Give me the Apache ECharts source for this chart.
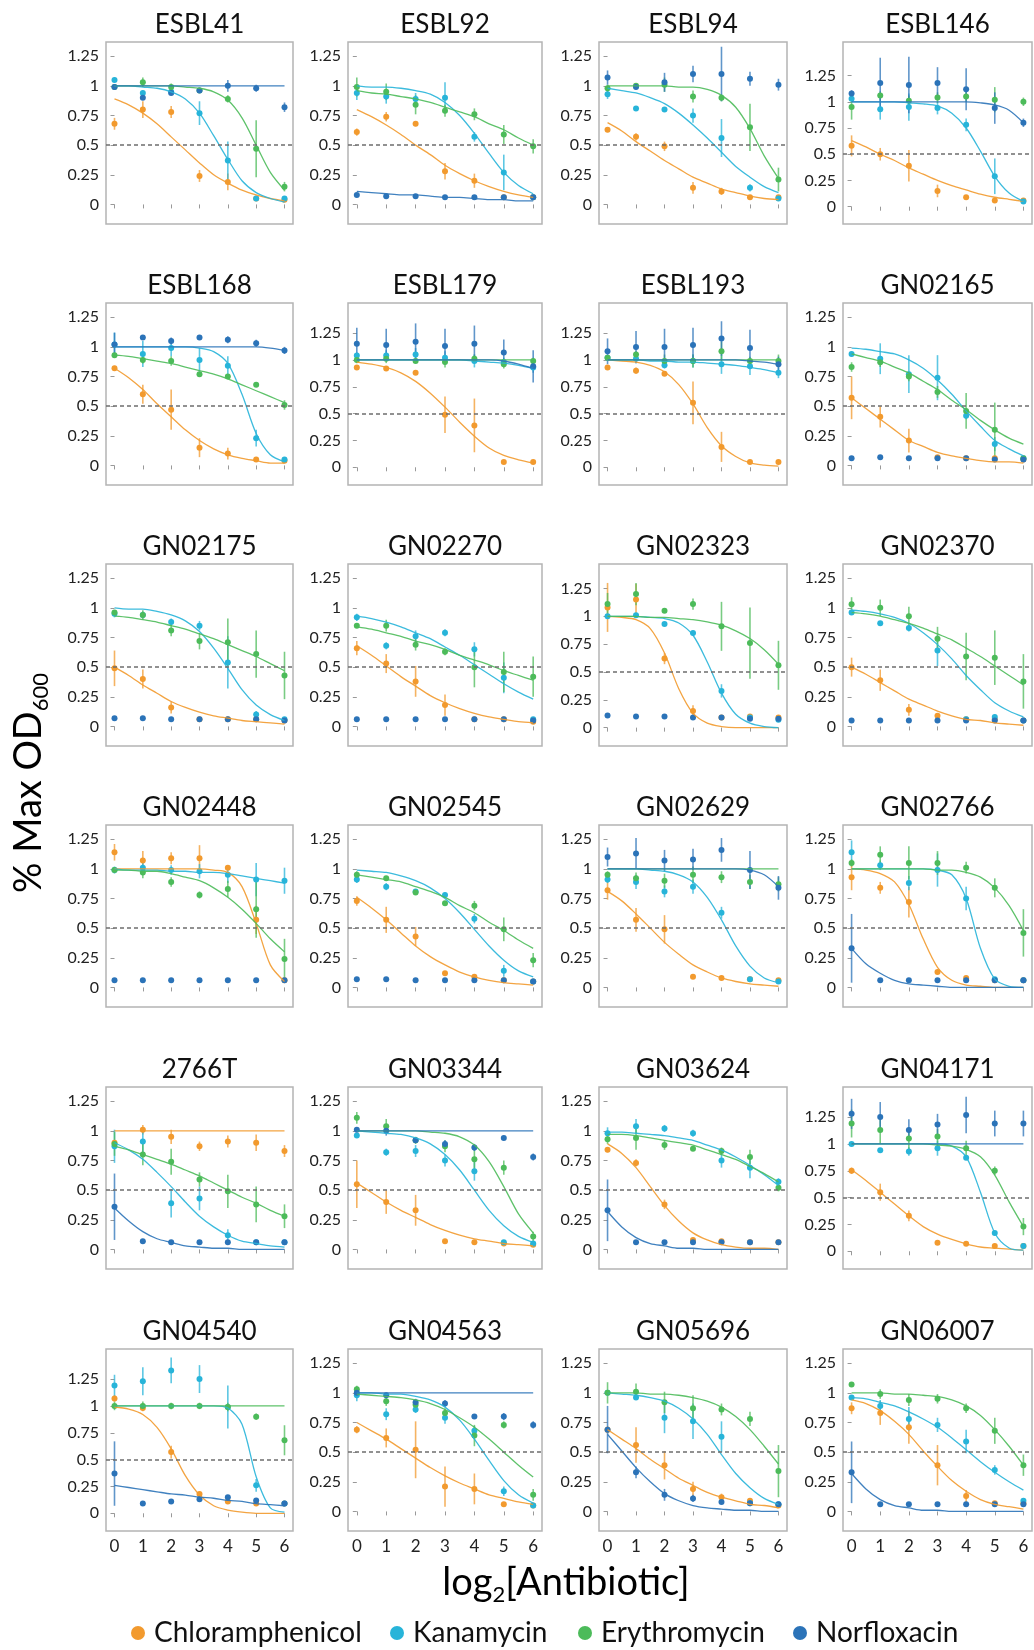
<!DOCTYPE html>
<html>
<head>
<meta charset="utf-8">
<title>% Max OD600 vs log2[Antibiotic]</title>
<script src="https://cdn.jsdelivr.net/npm/echarts@6/dist/echarts.min.js"></script>
<style>
html, body { margin: 0; padding: 0; background: #fff; }
#mainChart { width: 1034px; height: 1650px; }
</style>
</head>
<body>
<div id="mainChart"></div>
<script>
// panels, row by row
var strains = ['ESBL41', 'ESBL92', 'ESBL94', 'ESBL146',
    'ESBL168', 'ESBL179', 'ESBL193', 'GN02165',
    'GN02175', 'GN02270', 'GN02323', 'GN02370',
    'GN02448', 'GN02545', 'GN02629', 'GN02766',
    '2766T', 'GN03344', 'GN03624', 'GN04171',
    'GN04540', 'GN04563', 'GN05696', 'GN06007'];
var drugs = ['Chloramphenicol', 'Kanamycin', 'Erythromycin', 'Norfloxacin'];
var doses = [0, 1, 2, 3, 4, 5, 6];
var fitX = [0, 0.5, 1, 1.5, 2, 2.5, 3, 3.5, 4, 4.5, 5, 5.5, 6];
var yTicks = [0, 0.25, 0.5, 0.75, 1, 1.25];
var yTop = [1.37, 1.37, 1.37, 1.57, 1.37, 1.53, 1.53, 1.37, 1.37, 1.37, 1.47, 1.37,
    1.37, 1.37, 1.37, 1.37, 1.37, 1.37, 1.37, 1.53, 1.53, 1.37, 1.37, 1.37];
var yBottom = -0.165;

// Chloramphenicol
var chlMean = [
    [0.68, 0.80, 0.78, 0.24, 0.19, 0.05, 0.04], [0.61, 0.74, 0.68, 0.28, 0.20, 0.06, 0.06],
    [0.63, 0.57, 0.49, 0.14, 0.11, 0.06, 0.06], [0.58, 0.50, 0.39, 0.15, 0.09, 0.06, 0.06],
    [0.82, 0.60, 0.47, 0.15, 0.10, 0.05, 0.04], [0.93, 0.92, 0.88, 0.49, 0.39, 0.05, 0.05],
    [0.93, 0.90, 0.87, 0.60, 0.19, 0.05, 0.05], [0.57, 0.41, 0.21, 0.07, 0.06, 0.06, 0.05],
    [0.49, 0.40, 0.16, 0.06, 0.06, 0.06, 0.05], [0.66, 0.53, 0.38, 0.18, 0.06, 0.06, 0.04],
    [1.08, 1.15, 0.62, 0.15, 0.09, 0.10, 0.09], [0.50, 0.39, 0.14, 0.09, 0.06, 0.06, 0.05],
    [1.14, 1.07, 1.09, 1.09, 1.01, 0.57, 0.06], [0.73, 0.57, 0.43, 0.12, 0.09, 0.06, 0.05],
    [0.82, 0.57, 0.49, 0.09, 0.08, 0.07, 0.06], [0.93, 0.84, 0.72, 0.13, 0.08, 0.06, 0.06],
    [0.90, 1.01, 0.95, 0.87, 0.91, 0.90, 0.83], [0.55, 0.40, 0.33, 0.07, 0.06, 0.05, 0.04],
    [0.84, 0.73, 0.38, 0.08, 0.07, 0.06, 0.06], [0.75, 0.55, 0.33, 0.08, 0.07, 0.05, 0.05],
    [1.07, 0.98, 0.57, 0.18, 0.11, 0.09, 0.09], [0.69, 0.62, 0.52, 0.21, 0.19, 0.06, 0.05],
    [0.69, 0.56, 0.39, 0.19, 0.12, 0.09, 0.05], [0.87, 0.83, 0.71, 0.39, 0.13, 0.07, 0.07]
];
var chlErr = [
    [0.05, 0.07, 0.05, 0.05, 0.07, 0.01, 0.01], [0.03, 0.04, 0.02, 0.07, 0.06, 0.01, 0.01],
    [0.02, 0.03, 0.04, 0.05, 0.03, 0.01, 0.01], [0.10, 0.06, 0.15, 0.06, 0.01, 0.01, 0.01],
    [0.02, 0.08, 0.17, 0.08, 0.05, 0.01, 0.01], [0.01, 0.02, 0.01, 0.17, 0.25, 0.01, 0.01],
    [0.01, 0.03, 0.02, 0.20, 0.14, 0.01, 0.01], [0.18, 0.09, 0.10, 0.01, 0.01, 0.01, 0.01],
    [0.15, 0.08, 0.05, 0.01, 0.01, 0.01, 0.01], [0.06, 0.08, 0.13, 0.09, 0.01, 0.01, 0.01],
    [0.22, 0.14, 0.05, 0.05, 0.01, 0.01, 0.01], [0.08, 0.09, 0.05, 0.01, 0.01, 0.01, 0.01],
    [0.07, 0.08, 0.05, 0.11, 0.01, 0.12, 0.01], [0.04, 0.11, 0.08, 0.01, 0.01, 0.01, 0.01],
    [0.08, 0.10, 0.12, 0.01, 0.01, 0.01, 0.01], [0.11, 0.05, 0.13, 0.01, 0.01, 0.01, 0.01],
    [0.02, 0.04, 0.06, 0.04, 0.05, 0.07, 0.05], [0.20, 0.10, 0.13, 0.01, 0.01, 0.01, 0.01],
    [0.02, 0.03, 0.04, 0.01, 0.01, 0.01, 0.01], [0.03, 0.08, 0.05, 0.01, 0.01, 0.01, 0.01],
    [0.03, 0.03, 0.06, 0.02, 0.01, 0.01, 0.01], [0.03, 0.08, 0.24, 0.17, 0.13, 0.01, 0.01],
    [0.03, 0.15, 0.12, 0.06, 0.03, 0.02, 0.01], [0.05, 0.10, 0.14, 0.17, 0.05, 0.01, 0.01]
];
var chlFit = [
    [0.89, 0.84, 0.77, 0.68, 0.57, 0.46, 0.35, 0.25, 0.18, 0.12, 0.08, 0.05, 0.03],
    [0.80, 0.74, 0.67, 0.59, 0.50, 0.42, 0.33, 0.26, 0.20, 0.15, 0.11, 0.08, 0.06],
    [0.69, 0.62, 0.53, 0.45, 0.37, 0.30, 0.23, 0.18, 0.13, 0.10, 0.07, 0.05, 0.04],
    [0.63, 0.57, 0.50, 0.44, 0.37, 0.31, 0.25, 0.20, 0.16, 0.12, 0.09, 0.07, 0.05],
    [0.82, 0.74, 0.64, 0.52, 0.41, 0.30, 0.21, 0.14, 0.09, 0.06, 0.04, 0.02, 0.02],
    [0.98, 0.96, 0.93, 0.88, 0.80, 0.69, 0.56, 0.42, 0.29, 0.18, 0.11, 0.07, 0.04],
    [1.00, 0.99, 0.98, 0.95, 0.89, 0.77, 0.59, 0.37, 0.20, 0.10, 0.04, 0.02, 0.01],
    [0.57, 0.48, 0.39, 0.30, 0.21, 0.16, 0.11, 0.08, 0.06, 0.04, 0.03, 0.03, 0.02],
    [0.50, 0.43, 0.35, 0.28, 0.21, 0.16, 0.12, 0.09, 0.07, 0.05, 0.04, 0.03, 0.02],
    [0.68, 0.60, 0.51, 0.42, 0.34, 0.26, 0.20, 0.15, 0.11, 0.08, 0.06, 0.04, 0.03],
    [1.00, 0.99, 0.97, 0.89, 0.67, 0.35, 0.13, 0.04, 0.01, 0, 0, 0, 0],
    [0.50, 0.44, 0.37, 0.30, 0.23, 0.18, 0.13, 0.09, 0.06, 0.05, 0.03, 0.02, 0.01],
    [1, 1, 1, 1, 1, 1, 1, 0.99, 0.97, 0.85, 0.54, 0.19, 0.05],
    [0.76, 0.67, 0.57, 0.46, 0.35, 0.26, 0.19, 0.13, 0.09, 0.06, 0.04, 0.03, 0.02],
    [0.81, 0.73, 0.62, 0.50, 0.38, 0.28, 0.19, 0.13, 0.08, 0.05, 0.03, 0.02, 0.01],
    [1.00, 0.99, 0.96, 0.89, 0.70, 0.41, 0.17, 0.06, 0.02, 0.01, 0, 0, 0],
    [1, 1, 1, 1, 1, 1, 1, 1, 1, 1, 1, 1, 1],
    [0.56, 0.48, 0.40, 0.33, 0.27, 0.21, 0.16, 0.12, 0.09, 0.07, 0.05, 0.04, 0.03],
    [0.89, 0.81, 0.69, 0.53, 0.37, 0.24, 0.14, 0.08, 0.04, 0.02, 0.01, 0.01, 0],
    [0.76, 0.66, 0.55, 0.44, 0.33, 0.23, 0.16, 0.11, 0.07, 0.04, 0.03, 0.02, 0.01],
    [0.99, 0.97, 0.92, 0.80, 0.60, 0.35, 0.17, 0.07, 0.03, 0.01, 0, 0, 0],
    [0.75, 0.68, 0.61, 0.53, 0.45, 0.37, 0.30, 0.24, 0.19, 0.14, 0.11, 0.08, 0.06],
    [0.69, 0.61, 0.53, 0.44, 0.36, 0.28, 0.22, 0.16, 0.12, 0.09, 0.06, 0.05, 0.03],
    [0.94, 0.91, 0.85, 0.76, 0.65, 0.51, 0.38, 0.26, 0.17, 0.10, 0.06, 0.04, 0.02]
];

// Kanamycin
var kanMean = [
    [1.05, 0.94, 0.95, 0.77, 0.37, 0.05, 0.05], [0.94, 0.91, 0.89, 0.90, 0.57, 0.27, 0.06],
    [0.93, 0.81, 0.80, 0.75, 0.56, 0.14, 0.05], [1.03, 0.93, 0.95, 0.94, 0.78, 0.29, 0.05],
    [1.02, 0.94, 0.99, 0.89, 0.84, 0.23, 0.05], [1.04, 1.04, 1.05, 1.02, 0.99, 0.98, 0.93],
    [1.02, 1.01, 0.95, 0.99, 0.96, 0.94, 0.88], [0.94, 0.90, 0.77, 0.74, 0.42, 0.18, 0.06],
    [0.95, 0.94, 0.88, 0.85, 0.54, 0.10, 0.06], [0.92, 0.68, 0.76, 0.79, 0.65, 0.41, 0.06],
    [1.00, 1.01, 0.93, 0.85, 0.33, 0.09, 0.07], [0.96, 0.87, 0.83, 0.64, 0.06, 0.08, 0.05],
    [0.99, 1.01, 0.99, 0.98, 0.95, 0.91, 0.90], [0.91, 0.85, 0.81, 0.78, 0.58, 0.14, 0.05],
    [0.91, 0.89, 0.81, 0.85, 0.63, 0.07, 0.05], [1.14, 1.03, 0.88, 0.99, 0.75, 0.07, 0.06],
    [0.87, 0.91, 0.39, 0.43, 0.12, 0.06, 0.06], [0.96, 0.82, 0.83, 0.75, 0.66, 0.06, 0.05],
    [0.98, 1.04, 1.02, 0.98, 0.75, 0.69, 0.57], [1.00, 0.94, 0.93, 0.96, 0.87, 0.17, 0.05],
    [1.19, 1.23, 1.33, 1.25, 0.99, 0.26, 0.09], [0.98, 0.82, 0.86, 0.79, 0.68, 0.17, 0.05],
    [1.00, 0.96, 0.79, 0.76, 0.63, 0.07, 0.06], [0.96, 0.89, 0.78, 0.73, 0.59, 0.35, 0.09]
];
var kanErr = [
    [0.02, 0.02, 0.02, 0.10, 0.16, 0.01, 0.01], [0.06, 0.06, 0.05, 0.13, 0.04, 0.15, 0.01],
    [0.04, 0.01, 0.01, 0.06, 0.16, 0.03, 0.01], [0.02, 0.10, 0.13, 0.06, 0.06, 0.17, 0.02],
    [0.10, 0.11, 0.07, 0.10, 0.08, 0.07, 0.02], [0.03, 0.05, 0.06, 0.06, 0.06, 0.04, 0.05],
    [0.03, 0.04, 0.03, 0.06, 0.09, 0.08, 0.05], [0.02, 0.13, 0.16, 0.19, 0.03, 0.06, 0.01],
    [0.03, 0.03, 0.03, 0.04, 0.22, 0.03, 0.01], [0.03, 0.03, 0.05, 0.03, 0.06, 0.13, 0.01],
    [0.02, 0.02, 0.01, 0.02, 0.06, 0.01, 0.01], [0.01, 0.01, 0.03, 0.13, 0.01, 0.02, 0.01],
    [0.03, 0.04, 0.04, 0.06, 0.07, 0.14, 0.11], [0.03, 0.03, 0.02, 0.02, 0.04, 0.05, 0.01],
    [0.03, 0.06, 0.05, 0.06, 0.05, 0.01, 0.01], [0.10, 0.04, 0.06, 0.14, 0.10, 0.01, 0.01],
    [0.14, 0.10, 0.12, 0.10, 0.05, 0.01, 0.01], [0.02, 0.03, 0.05, 0.05, 0.08, 0.01, 0.01],
    [0.05, 0.06, 0.03, 0.03, 0.06, 0.09, 0.03], [0.01, 0.01, 0.04, 0.07, 0.01, 0.02, 0.01],
    [0.10, 0.13, 0.12, 0.13, 0.20, 0.06, 0.01], [0.05, 0.05, 0.03, 0.05, 0.04, 0.04, 0.01],
    [0.02, 0.02, 0.13, 0.15, 0.13, 0.02, 0.01], [0.01, 0.05, 0.10, 0.06, 0.10, 0.04, 0.02]
];
var kanFit = [
    [1.00, 1.00, 0.99, 0.98, 0.95, 0.89, 0.77, 0.58, 0.38, 0.20, 0.10, 0.05, 0.02],
    [1.00, 0.99, 0.99, 0.98, 0.96, 0.93, 0.86, 0.75, 0.60, 0.43, 0.27, 0.16, 0.09],
    [0.98, 0.96, 0.94, 0.90, 0.85, 0.77, 0.67, 0.56, 0.44, 0.32, 0.23, 0.15, 0.10],
    [1.00, 1.00, 1.00, 1.00, 0.99, 0.98, 0.96, 0.89, 0.75, 0.53, 0.29, 0.13, 0.05],
    [1.00, 1.00, 1.00, 1.00, 1.00, 1.00, 0.99, 0.96, 0.86, 0.60, 0.27, 0.09, 0.03],
    [1.00, 1.00, 1.00, 1.00, 1.00, 1.00, 1.00, 1.00, 0.99, 0.98, 0.97, 0.95, 0.92],
    [1.00, 1.00, 1.00, 0.99, 0.99, 0.98, 0.98, 0.97, 0.96, 0.95, 0.93, 0.91, 0.88],
    [0.99, 0.98, 0.96, 0.94, 0.89, 0.82, 0.72, 0.60, 0.46, 0.33, 0.21, 0.14, 0.08],
    [1.00, 0.99, 0.99, 0.97, 0.94, 0.89, 0.80, 0.66, 0.49, 0.31, 0.18, 0.10, 0.05],
    [0.93, 0.91, 0.88, 0.84, 0.79, 0.74, 0.67, 0.60, 0.52, 0.44, 0.36, 0.29, 0.23],
    [1.00, 1.00, 1.00, 0.99, 0.98, 0.94, 0.83, 0.59, 0.31, 0.12, 0.04, 0.01, 0],
    [0.98, 0.97, 0.95, 0.92, 0.87, 0.79, 0.69, 0.57, 0.43, 0.31, 0.20, 0.13, 0.08],
    [1.00, 0.99, 0.99, 0.99, 0.98, 0.98, 0.97, 0.97, 0.96, 0.94, 0.92, 0.90, 0.88],
    [0.99, 0.98, 0.97, 0.94, 0.90, 0.84, 0.75, 0.63, 0.49, 0.35, 0.23, 0.14, 0.09],
    [1.00, 1.00, 1.00, 0.99, 0.98, 0.95, 0.89, 0.76, 0.57, 0.35, 0.18, 0.08, 0.04],
    [1.00, 1.00, 1.00, 1.00, 1.00, 1.00, 0.99, 0.95, 0.75, 0.33, 0.07, 0.01, 0],
    [0.90, 0.84, 0.76, 0.65, 0.53, 0.40, 0.28, 0.19, 0.12, 0.07, 0.05, 0.03, 0.02],
    [1.00, 0.99, 0.98, 0.97, 0.94, 0.89, 0.80, 0.67, 0.50, 0.33, 0.20, 0.11, 0.06],
    [0.99, 0.99, 0.98, 0.97, 0.96, 0.94, 0.92, 0.88, 0.84, 0.78, 0.71, 0.63, 0.54],
    [1.00, 1.00, 1.00, 1.00, 1.00, 1.00, 1.00, 0.98, 0.88, 0.55, 0.17, 0.03, 0.01],
    [1.00, 1.00, 1.00, 1.00, 1.00, 1.00, 1.00, 1.00, 0.98, 0.83, 0.34, 0.05, 0.01],
    [1.00, 1.00, 0.99, 0.99, 0.97, 0.94, 0.88, 0.77, 0.61, 0.43, 0.26, 0.14, 0.07],
    [1.00, 0.99, 0.98, 0.96, 0.93, 0.87, 0.78, 0.65, 0.48, 0.32, 0.20, 0.11, 0.06],
    [0.96, 0.95, 0.92, 0.89, 0.84, 0.78, 0.71, 0.62, 0.52, 0.42, 0.33, 0.25, 0.18]
];

// Erythromycin
var eryMean = [
    [0.99, 1.03, 0.99, 0.96, 0.89, 0.47, 0.15], [0.99, 0.95, 0.84, 0.79, 0.76, 0.59, 0.49],
    [0.98, 1.00, 1.01, 0.91, 0.90, 0.65, 0.21], [0.95, 1.06, 1.01, 1.04, 1.05, 1.02, 1.00],
    [0.93, 0.89, 0.88, 0.77, 0.75, 0.68, 0.51], [1.00, 1.01, 0.99, 0.98, 1.01, 0.96, 0.99],
    [1.02, 1.05, 0.99, 0.99, 1.08, 0.99, 0.99], [0.83, 0.87, 0.75, 0.62, 0.46, 0.30, 0.06],
    [0.96, 0.94, 0.81, 0.72, 0.71, 0.61, 0.43], [0.85, 0.85, 0.69, 0.63, 0.50, 0.46, 0.42],
    [1.11, 1.20, 1.05, 1.11, 0.91, 0.76, 0.56], [1.03, 1.00, 0.93, 0.74, 0.59, 0.58, 0.38],
    [0.99, 0.97, 0.89, 0.78, 0.83, 0.66, 0.24], [0.95, 0.92, 0.80, 0.71, 0.69, 0.49, 0.23],
    [0.95, 0.92, 0.90, 0.95, 0.93, 0.89, 0.87], [1.05, 1.12, 1.05, 1.05, 1.01, 0.84, 0.46],
    [0.89, 0.80, 0.74, 0.59, 0.49, 0.38, 0.28], [1.11, 1.04, 0.92, 0.87, 0.76, 0.69, 0.11],
    [0.93, 0.94, 0.88, 0.85, 0.83, 0.78, 0.52], [1.19, 1.13, 1.05, 1.07, 0.96, 0.75, 0.23],
    [1.00, 1.00, 1.00, 1.00, 0.99, 0.90, 0.68], [1.03, 0.93, 0.90, 0.83, 0.64, 0.73, 0.14],
    [1.00, 1.01, 0.92, 0.87, 0.86, 0.78, 0.34], [1.07, 0.99, 0.94, 0.95, 0.87, 0.68, 0.39]
];
var eryErr = [
    [0.02, 0.04, 0.03, 0.02, 0.03, 0.24, 0.04], [0.08, 0.07, 0.08, 0.05, 0.05, 0.08, 0.06],
    [0.03, 0.02, 0.06, 0.05, 0.03, 0.20, 0.10], [0.12, 0.04, 0.05, 0.05, 0.05, 0.12, 0.04],
    [0.02, 0.03, 0.04, 0.01, 0.02, 0.01, 0.04], [0.03, 0.04, 0.02, 0.05, 0.04, 0.04, 0.03],
    [0.02, 0.03, 0.06, 0.06, 0.09, 0.04, 0.06], [0.04, 0.04, 0.04, 0.05, 0.15, 0.23, 0.01],
    [0.02, 0.04, 0.05, 0.07, 0.20, 0.20, 0.20], [0.01, 0.05, 0.05, 0.03, 0.17, 0.17, 0.17],
    [0.10, 0.10, 0.02, 0.05, 0.22, 0.32, 0.22], [0.06, 0.07, 0.08, 0.10, 0.20, 0.23, 0.23],
    [0.02, 0.05, 0.04, 0.03, 0.07, 0.24, 0.17], [0.03, 0.02, 0.02, 0.01, 0.04, 0.10, 0.06],
    [0.03, 0.05, 0.06, 0.07, 0.05, 0.06, 0.06], [0.03, 0.07, 0.14, 0.10, 0.05, 0.08, 0.20],
    [0.10, 0.09, 0.11, 0.06, 0.14, 0.15, 0.10], [0.05, 0.06, 0.03, 0.05, 0.08, 0.06, 0.04],
    [0.04, 0.10, 0.04, 0.02, 0.03, 0.06, 0.03], [0.13, 0.13, 0.10, 0.07, 0.07, 0.04, 0.08],
    [0.04, 0.04, 0.03, 0.03, 0.04, 0.03, 0.14], [0.03, 0.04, 0.04, 0.04, 0.09, 0.03, 0.05],
    [0.09, 0.07, 0.09, 0.11, 0.05, 0.06, 0.22], [0.01, 0.04, 0.05, 0.04, 0.04, 0.11, 0.09]
];
var eryFit = [
    [1, 1, 1, 1, 1, 0.99, 0.98, 0.95, 0.88, 0.73, 0.50, 0.27, 0.12],
    [0.96, 0.94, 0.93, 0.91, 0.89, 0.86, 0.82, 0.78, 0.74, 0.68, 0.63, 0.56, 0.50],
    [1, 1, 1, 1, 1, 0.99, 0.99, 0.97, 0.92, 0.82, 0.64, 0.41, 0.22],
    null,
    [0.93, 0.92, 0.90, 0.88, 0.86, 0.83, 0.80, 0.77, 0.73, 0.68, 0.63, 0.58, 0.53],
    [1, 1, 1, 1, 1, 1, 1, 1, 1, 1, 1, 1, 1],
    [1, 1, 1, 1, 1, 1, 1, 1, 1, 1, 1, 1, 1],
    [0.94, 0.91, 0.88, 0.83, 0.78, 0.71, 0.64, 0.55, 0.47, 0.38, 0.30, 0.23, 0.18],
    [0.93, 0.92, 0.90, 0.88, 0.85, 0.82, 0.78, 0.74, 0.69, 0.64, 0.59, 0.53, 0.47],
    [0.84, 0.82, 0.79, 0.76, 0.72, 0.69, 0.65, 0.60, 0.56, 0.52, 0.47, 0.43, 0.39],
    [1, 1, 1, 0.99, 0.99, 0.98, 0.97, 0.95, 0.92, 0.87, 0.80, 0.70, 0.57],
    [0.96, 0.95, 0.93, 0.90, 0.87, 0.83, 0.78, 0.73, 0.66, 0.59, 0.51, 0.43, 0.35],
    [0.99, 0.99, 0.98, 0.98, 0.96, 0.93, 0.90, 0.84, 0.76, 0.66, 0.54, 0.41, 0.30],
    [0.95, 0.93, 0.91, 0.89, 0.85, 0.81, 0.76, 0.69, 0.63, 0.55, 0.48, 0.40, 0.33],
    [1, 1, 1, 1, 1, 1, 1, 1, 1, 1, 1, 1, 1],
    [1, 1, 1, 1, 1, 1, 0.99, 0.99, 0.97, 0.93, 0.84, 0.69, 0.48],
    [0.87, 0.84, 0.80, 0.76, 0.72, 0.67, 0.62, 0.56, 0.50, 0.44, 0.39, 0.33, 0.28],
    [1, 1, 1, 1, 1, 0.99, 0.98, 0.95, 0.88, 0.74, 0.53, 0.30, 0.14],
    [0.97, 0.97, 0.96, 0.94, 0.92, 0.90, 0.88, 0.84, 0.80, 0.76, 0.70, 0.64, 0.57],
    [1, 1, 1, 1, 1, 1, 0.99, 0.98, 0.95, 0.88, 0.71, 0.46, 0.23],
    [1, 1, 1, 1, 1, 1, 1, 1, 1, 1, 1, 1, 1],
    [0.99, 0.98, 0.97, 0.96, 0.94, 0.91, 0.86, 0.79, 0.71, 0.61, 0.50, 0.39, 0.29],
    [1, 1, 1, 0.99, 0.99, 0.98, 0.96, 0.93, 0.88, 0.80, 0.69, 0.55, 0.40],
    [1, 1, 1, 0.99, 0.99, 0.98, 0.97, 0.94, 0.89, 0.81, 0.69, 0.55, 0.39]
];

// Norfloxacin
var norMean = [
    [0.99, 0.90, 0.94, 0.96, 1.00, 0.98, 0.82], [0.08, 0.07, 0.07, 0.06, 0.06, 0.06, 0.06],
    [1.07, 0.99, 1.03, 1.10, 1.10, 1.06, 1.01], [1.08, 1.18, 1.16, 1.18, 1.12, 0.94, 0.80],
    [1.02, 1.08, 1.05, 1.08, 1.06, 1.03, 0.97], [1.15, 1.14, 1.17, 1.13, 1.15, 1.07, 0.94],
    [1.08, 1.12, 1.12, 1.14, 1.20, 1.11, 0.96], [0.06, 0.07, 0.06, 0.06, 0.06, 0.05, 0.05],
    [0.07, 0.07, 0.06, 0.06, 0.06, 0.06, 0.05], [0.06, 0.06, 0.06, 0.06, 0.06, 0.06, 0.05],
    [0.11, 0.10, 0.10, 0.09, 0.09, 0.08, 0.08], [0.05, 0.05, 0.05, 0.05, 0.05, 0.05, 0.05],
    [0.06, 0.06, 0.06, 0.06, 0.06, 0.06, 0.06], [0.07, 0.07, 0.06, 0.06, 0.06, 0.06, 0.05],
    [1.10, 1.13, 1.07, 1.08, 1.16, 0.99, 0.84], [0.33, 0.06, 0.06, 0.06, 0.06, 0.06, 0.06],
    [0.36, 0.07, 0.06, 0.06, 0.06, 0.06, 0.06], [1.01, 1.00, 0.92, 0.89, 0.86, 0.94, 0.78],
    [0.33, 0.06, 0.06, 0.06, 0.06, 0.06, 0.06], [1.28, 1.25, 1.13, 1.18, 1.27, 1.19, 1.19],
    [0.37, 0.09, 0.11, 0.13, 0.15, 0.12, 0.09], [1.00, 0.98, 0.92, 0.91, 0.80, 0.80, 0.73],
    [0.69, 0.33, 0.14, 0.11, 0.08, 0.07, 0.06], [0.33, 0.06, 0.06, 0.06, 0.06, 0.06, 0.06]
];
var norErr = [
    [0.02, 0.02, 0.02, 0.01, 0.05, 0.03, 0.04], [0.01, 0.01, 0.01, 0.01, 0.01, 0.01, 0.01],
    [0.06, 0.02, 0.08, 0.07, 0.23, 0.06, 0.05], [0.03, 0.24, 0.27, 0.15, 0.20, 0.15, 0.04],
    [0.10, 0.02, 0.03, 0.01, 0.03, 0.03, 0.03], [0.15, 0.15, 0.17, 0.16, 0.17, 0.12, 0.15],
    [0.12, 0.15, 0.17, 0.16, 0.16, 0.17, 0.07], [0.01, 0.01, 0.01, 0.01, 0.01, 0.01, 0.01],
    [0.01, 0.01, 0.01, 0.01, 0.01, 0.01, 0.01], [0.01, 0.01, 0.01, 0.01, 0.01, 0.01, 0.01],
    [0.01, 0.01, 0.01, 0.01, 0.01, 0.01, 0.01], [0.01, 0.01, 0.01, 0.01, 0.01, 0.01, 0.01],
    [0.01, 0.01, 0.01, 0.01, 0.01, 0.01, 0.01], [0.01, 0.01, 0.01, 0.01, 0.01, 0.01, 0.01],
    [0.08, 0.13, 0.09, 0.09, 0.10, 0.16, 0.10], [0.29, 0.01, 0.01, 0.01, 0.01, 0.01, 0.01],
    [0.28, 0.01, 0.01, 0.01, 0.01, 0.01, 0.01], [0.01, 0.04, 0.02, 0.03, 0.03, 0.01, 0.03],
    [0.26, 0.01, 0.01, 0.01, 0.01, 0.01, 0.01], [0.14, 0.14, 0.10, 0.10, 0.17, 0.12, 0.12],
    [0.30, 0.01, 0.01, 0.01, 0.02, 0.02, 0.02], [0.02, 0.02, 0.03, 0.03, 0.02, 0.03, 0.03],
    [0.20, 0.05, 0.05, 0.03, 0.01, 0.01, 0.01], [0.26, 0.01, 0.01, 0.01, 0.01, 0.01, 0.01]
];
var norFit = [
    [1, 1, 1, 1, 1, 1, 1, 1, 1, 1, 1, 1, 1],
    [0.11, 0.10, 0.09, 0.08, 0.08, 0.07, 0.06, 0.06, 0.05, 0.04, 0.04, 0.03, 0.03],
    null,
    [1, 1, 1, 1, 1, 1, 1, 1, 1, 0.99, 0.97, 0.92, 0.80],
    [1, 1, 1, 1, 1, 1, 1, 1, 1, 1, 1, 0.99, 0.97],
    [1, 1, 1, 1, 1, 1, 1, 1, 1, 1, 0.99, 0.96, 0.92],
    [1, 1, 1, 1, 1, 1, 1, 1, 1, 1, 0.99, 0.98, 0.96],
    null, null, null, null, null, null, null,
    [1, 1, 1, 1, 1, 1, 1, 1, 1, 1, 0.99, 0.95, 0.85],
    [0.33, 0.20, 0.12, 0.06, 0.03, 0.02, 0.01, 0, 0, 0, 0, 0, 0],
    [0.35, 0.24, 0.15, 0.09, 0.06, 0.03, 0.02, 0.01, 0.01, 0, 0, 0, 0],
    [1, 1, 1, 1, 1, 1, 1, 1, 1, 1, 1, 1, 1],
    [0.32, 0.19, 0.10, 0.05, 0.03, 0.01, 0.01, 0, 0, 0, 0, 0, 0],
    [1, 1, 1, 1, 1, 1, 1, 1, 1, 1, 1, 1, 1],
    [0.26, 0.24, 0.22, 0.20, 0.18, 0.17, 0.15, 0.14, 0.12, 0.11, 0.09, 0.08, 0.07],
    [1, 1, 1, 1, 1, 1, 1, 1, 1, 1, 1, 1, 1],
    [0.65, 0.51, 0.37, 0.25, 0.15, 0.09, 0.05, 0.03, 0.02, 0.01, 0.01, 0, 0],
    [0.32, 0.19, 0.10, 0.05, 0.03, 0.01, 0.01, 0, 0, 0, 0, 0, 0]
];

var means = [chlMean, kanMean, eryMean, norMean];
var errs = [chlErr, kanErr, eryErr, norErr];
var fits = [chlFit, kanFit, eryFit, norFit];
var colors = ['#f29a2e', '#27b4d9', '#4cbb5a', '#2b73b8'];

// layout of the 4 x 6 panels
var gridLeft = [106, 348, 599, 843];
var gridWidth = [187, 194, 188, 189];
var gridTop = [42, 303, 564, 825, 1087, 1349];
var gridHeight = 182;
var FONT = 'Lato';

function errorBar(color) {
    return function (params, api) {
        var lo = api.coord([api.value(0), api.value(1)]);
        var hi = api.coord([api.value(0), api.value(2)]);
        return {
            type: 'line',
            shape: { x1: lo[0], y1: lo[1], x2: hi[0], y2: hi[1] },
            style: { stroke: color, lineWidth: 1.6, opacity: 0.75 }
        };
    };
}

function buildOption() {
    var grids = [], xAxes = [], yAxes = [], series = [], graphics = [];

    strains.forEach(function (strain, i) {
        var row = Math.floor(i / 4), col = i % 4;
        var panelLeft = gridLeft[col], panelTop = gridTop[row];
        grids.push({
            left: panelLeft, top: panelTop, width: gridWidth[col], height: gridHeight,
            show: true, borderColor: '#b4b4b4', borderWidth: 1.5
        });
        xAxes.push({
            gridIndex: i, type: 'value', min: -0.3, max: 6.3,
            axisLine: { show: false }, splitLine: { show: false },
            axisTick: { show: true, length: 4, lineStyle: { color: '#999' }, customValues: doses },
            axisLabel: { show: row === 5, customValues: doses, fontSize: 17, fontFamily: FONT, color: '#222', margin: 7 }
        });
        yAxes.push({
            gridIndex: i, type: 'value', min: yBottom, max: yTop[i],
            axisLine: { show: false }, splitLine: { show: false },
            axisTick: { show: true, length: 4, lineStyle: { color: '#999' }, customValues: yTicks },
            axisLabel: { customValues: yTicks, fontSize: 16, fontFamily: FONT, color: '#222', margin: 7 }
        });

        // fitted curves
        fits.forEach(function (fit, d) {
            var f = fit[i];
            if (!f) return;
            series.push({
                type: 'line', xAxisIndex: i, yAxisIndex: i, silent: true,
                showSymbol: false, smooth: 0.3,
                lineStyle: { color: colors[d], width: 1.3, opacity: 0.9 },
                data: fitX.map(function (x, j) { return [x, f[j]]; })
            });
        });
        // error bars
        means.forEach(function (mean, d) {
            var m = mean[i], e = errs[d][i];
            series.push({
                type: 'custom', xAxisIndex: i, yAxisIndex: i, silent: true,
                renderItem: errorBar(colors[d]),
                data: doses.map(function (x, j) { return [x, m[j] - e[j], m[j] + e[j]]; })
            });
        });
        // points
        means.forEach(function (mean, d) {
            var m = mean[i];
            var s = {
                name: drugs[d], type: 'scatter', xAxisIndex: i, yAxisIndex: i,
                symbolSize: 6, itemStyle: { color: colors[d], opacity: 1 },
                data: doses.map(function (x, j) { return [x, m[j]]; })
            };
            if (d === 0) {
                s.markLine = {
                    silent: true, symbol: 'none', label: { show: false },
                    lineStyle: { color: '#6e6e6e', width: 1.5, type: [4, 3] },
                    data: [{ yAxis: 0.5 }]
                };
            }
            series.push(s);
        });

        graphics.push({
            type: 'text', x: panelLeft + gridWidth[col] / 2, y: panelTop - 17,
            style: { text: strain, fontSize: 26, fontFamily: FONT, fill: '#111', align: 'center', verticalAlign: 'middle' }
        });
    });

    // axis titles with subscripts
    var richTitle = {
        a: { fontSize: 38, fontFamily: FONT, color: '#111', lineHeight: 46 },
        b: { fontSize: 22, fontFamily: FONT, color: '#111', lineHeight: 12, verticalAlign: 'bottom' }
    };
    graphics.push({
        type: 'text', x: 566, y: 1583,
        style: { text: '{a|log}{b|2}{a|[Antibiotic]}', rich: richTitle, align: 'center', verticalAlign: 'middle' }
    });
    graphics.push({
        type: 'text', x: 29, y: 783, rotation: Math.PI / 2,
        style: { text: '{a|% Max OD}{b|600}', rich: richTitle, align: 'center', verticalAlign: 'middle' }
    });

    var legendLeft = [131, 390, 578, 793];
    var legends = drugs.map(function (drug, d) {
        return {
            data: [{ name: drug, icon: 'circle' }],
            left: legendLeft[d], top: 1619, padding: 0,
            itemWidth: 14, itemHeight: 14,
            textStyle: { fontSize: 28, fontFamily: FONT, color: '#111', padding: [0, 0, 0, 4] }
        };
    });

    return {
        animation: false,
        backgroundColor: '#fff',
        grid: grids,
        xAxis: xAxes,
        yAxis: yAxes,
        legend: legends,
        graphic: graphics,
        series: series
    };
}

var myChart = echarts.init(document.getElementById('mainChart'));
myChart.setOption(buildOption());
</script>
</body>
</html>
